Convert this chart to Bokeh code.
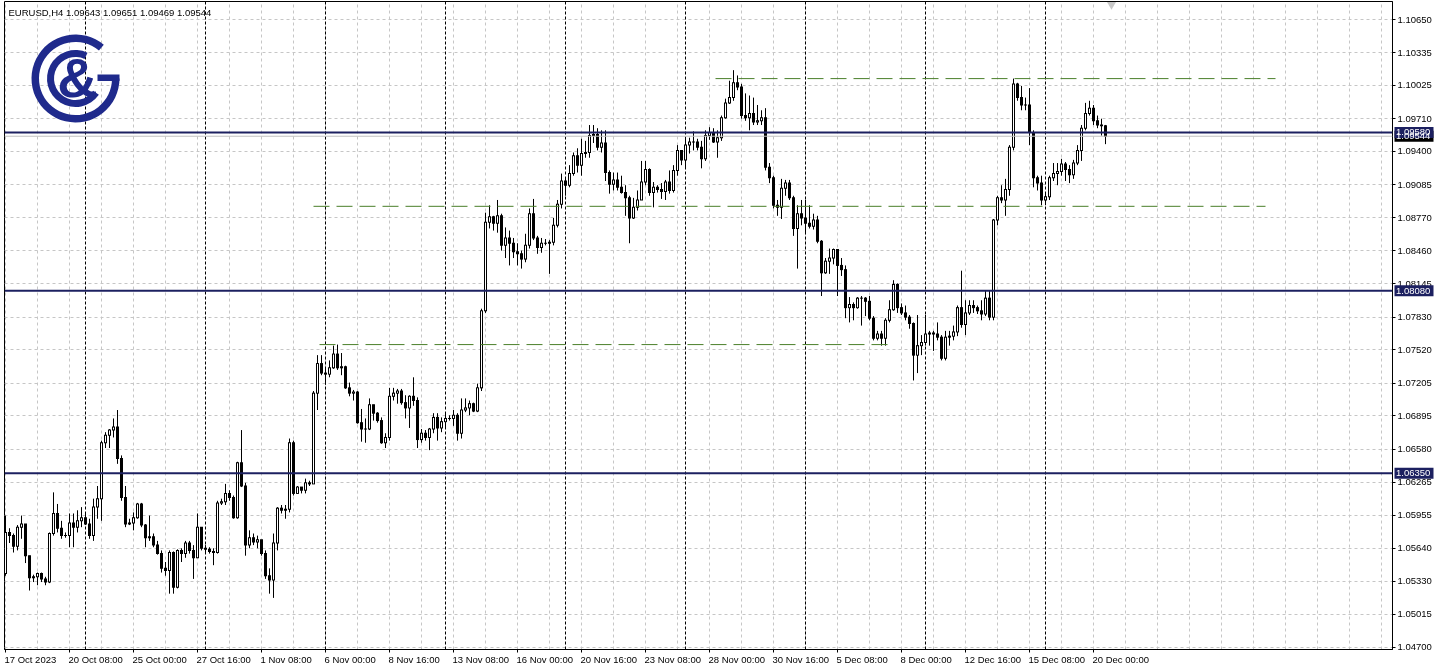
import math
from bokeh.plotting import figure
from bokeh.models import (Range1d, LinearAxis, FixedTicker, Span, Label, ColumnDataSource,
                          Grid, PrintfTickFormatter)
from bokeh.core.properties import value
from bokeh.embed import file_html
from bokeh.resources import INLINE

# ---------------- data ----------------
symbol_text = "EURUSD,H4  1.09643 1.09651 1.09469 1.09544"

first_open = 1.0540
closes = [
    1.0579, 1.0576, 1.0566, 1.0584, 1.0587, 1.0557, 1.0536, 1.0537, 1.0540, 1.0535,
    1.0532, 1.0578, 1.0597, 1.0583, 1.0576, 1.0576, 1.0588, 1.0584, 1.0590, 1.0593,
    1.0587, 1.0576, 1.0603, 1.0611, 1.0664, 1.0671, 1.0676, 1.0679, 1.0649, 1.0612,
    1.0587, 1.0588, 1.0593, 1.0606, 1.0586, 1.0574, 1.0575, 1.0567, 1.0559, 1.0545,
    1.0543, 1.0560, 1.0527, 1.0562, 1.0559, 1.0569, 1.0562, 1.0555, 1.0584, 1.0564,
    1.0563, 1.0561, 1.0560, 1.0607, 1.0608, 1.0616, 1.0612, 1.0593, 1.0645, 1.0623,
    1.0567, 1.0574, 1.0570, 1.0572, 1.0559, 1.0538, 1.0534, 1.0569, 1.0602, 1.0600,
    1.0601, 1.0664, 1.0616, 1.0622, 1.0619, 1.0626, 1.0625, 1.0711, 1.0739, 1.0730,
    1.0729, 1.0735, 1.0748, 1.0735, 1.0736, 1.0716, 1.0711, 1.0712, 1.0683, 1.0677,
    1.0677, 1.0700, 1.0692, 1.0685, 1.0664, 1.0669, 1.0708, 1.0711, 1.0713, 1.0702,
    1.0697, 1.0708, 1.0704, 1.0667, 1.0673, 1.0669, 1.0677, 1.0688, 1.0678, 1.0684,
    1.0687, 1.0687, 1.0690, 1.0673, 1.0695, 1.0697, 1.0701, 1.0694, 1.0716, 1.0789,
    1.0873, 1.0878, 1.0872, 1.0879, 1.0851, 1.0858, 1.0853, 1.0845, 1.0843, 1.0838,
    1.0851, 1.0881, 1.0858, 1.0849, 1.0853, 1.0853, 1.0854, 1.0870, 1.0890, 1.0912,
    1.0908, 1.0919, 1.0936, 1.0927, 1.0938, 1.0939, 1.0955, 1.0956, 1.0944, 1.0948,
    1.0920, 1.0909, 1.0913, 1.0906, 1.0901, 1.0896, 1.0877, 1.0887, 1.0894, 1.0911,
    1.0923, 1.0901, 1.0906, 1.0904, 1.0902, 1.0911, 1.0903, 1.0922, 1.0941, 1.0932,
    1.0946, 1.0949, 1.0949, 1.0944, 1.0933, 1.0955, 1.0958, 1.0949, 1.0953, 1.0972,
    1.0986, 1.0991, 1.1005, 1.1001, 1.0974, 1.0972, 1.0976, 1.0968, 1.0969, 1.0972,
    1.0925, 1.0915, 1.0889, 1.0887, 1.0905, 1.0910, 1.0896, 1.0867, 1.0881, 1.0877,
    1.0872, 1.0869, 1.0875, 1.0855, 1.0825, 1.0836, 1.0839, 1.0847, 1.0832, 1.0828,
    1.0792, 1.0795, 1.0792, 1.0801, 1.0801, 1.0798, 1.0782, 1.0763, 1.0767, 1.0763,
    1.0780, 1.0790, 1.0814, 1.0792, 1.0787, 1.0783, 1.0777, 1.0747, 1.0756, 1.0759,
    1.0767, 1.0768, 1.0767, 1.0764, 1.0744, 1.0764, 1.0765, 1.0769, 1.0792, 1.0776,
    1.0787, 1.0794, 1.0792, 1.0789, 1.0786, 1.0801, 1.0783, 1.0875, 1.0896, 1.0894,
    1.0904, 1.0944, 1.1004, 1.0991, 1.0984, 1.0984, 1.0958, 1.0915, 1.0910, 1.0894,
    1.0897, 1.0915, 1.0919, 1.0921, 1.0928, 1.0923, 1.0918, 1.0929, 1.0941, 1.0962,
    1.0976, 1.0981, 1.0969, 1.0965, 1.09643, 1.09544,
]
highs = [
    1.0595, 1.0583, 1.0578, 1.0586, 1.0595, 1.0587, 1.0557, 1.0539, 1.0541, 1.0541,
    1.0537, 1.0579, 1.0617, 1.0606, 1.0590, 1.0579, 1.0597, 1.0597, 1.0600, 1.0603,
    1.0597, 1.0592, 1.0611, 1.0623, 1.0666, 1.0674, 1.0677, 1.0687, 1.0695, 1.0652,
    1.0623, 1.0592, 1.0598, 1.0607, 1.0607, 1.0587, 1.0595, 1.0578, 1.0571, 1.0562,
    1.0551, 1.0562, 1.0561, 1.0563, 1.0564, 1.0571, 1.0571, 1.0567, 1.0597, 1.0584,
    1.0567, 1.0565, 1.0564, 1.0609, 1.0611, 1.0625, 1.0619, 1.0614, 1.0646, 1.0676,
    1.0626, 1.0581, 1.0578, 1.0576, 1.0571, 1.0562, 1.0545, 1.0578, 1.0603, 1.0605,
    1.0605, 1.0668, 1.0666, 1.0623, 1.0622, 1.0630, 1.0628, 1.0713, 1.0747, 1.0747,
    1.0734, 1.0742, 1.0756, 1.0757, 1.0749, 1.0737, 1.0721, 1.0714, 1.0713, 1.0696,
    1.0687, 1.0706, 1.0700, 1.0693, 1.0688, 1.0673, 1.0716, 1.0716, 1.0715, 1.0715,
    1.0709, 1.0709, 1.0726, 1.0707, 1.0677, 1.0676, 1.0678, 1.0692, 1.0692, 1.0688,
    1.0692, 1.0690, 1.0695, 1.0692, 1.0706, 1.0706, 1.0704, 1.0702, 1.0720, 1.0791,
    1.0882, 1.0889, 1.0879, 1.0894, 1.0881, 1.0868, 1.0865, 1.0858, 1.0853, 1.0846,
    1.0862, 1.0886, 1.0895, 1.0860, 1.0858, 1.0857, 1.0856, 1.0877, 1.0894, 1.0919,
    1.0914, 1.0927, 1.0939, 1.0943, 1.0952, 1.0950, 1.0965, 1.0965, 1.0962, 1.0960,
    1.0960, 1.0922, 1.0920, 1.0920, 1.0917, 1.0908, 1.0898, 1.0896, 1.0903, 1.0931,
    1.0931, 1.0924, 1.0911, 1.0908, 1.0910, 1.0913, 1.0922, 1.0927, 1.0946, 1.0941,
    1.0952, 1.0953, 1.0959, 1.0952, 1.0950, 1.0960, 1.0963, 1.0962, 1.0960, 1.0974,
    1.0990, 1.1007, 1.1017, 1.1012, 1.1004, 1.0995, 1.0993, 1.0991, 1.0984, 1.0979,
    1.0981, 1.0929, 1.0917, 1.0894, 1.0914, 1.0913, 1.0913, 1.0898, 1.0889, 1.0894,
    1.0894, 1.0889, 1.0881, 1.0879, 1.0856, 1.0839, 1.0848, 1.0848, 1.0847, 1.0839,
    1.0832, 1.0802, 1.0797, 1.0802, 1.0803, 1.0802, 1.0803, 1.0784, 1.0770, 1.0770,
    1.0782, 1.0799, 1.0818, 1.0815, 1.0796, 1.0794, 1.0785, 1.0778, 1.0785, 1.0766,
    1.0785, 1.0770, 1.0770, 1.0778, 1.0766, 1.0770, 1.0770, 1.0775, 1.0794, 1.0827,
    1.0799, 1.0799, 1.0799, 1.0794, 1.0799, 1.0808, 1.0808, 1.0876, 1.0898, 1.0908,
    1.0914, 1.0946, 1.1009, 1.1005, 1.1002, 1.0991, 1.1000, 1.0960, 1.0917, 1.0917,
    1.0900, 1.0917, 1.0929, 1.0929, 1.0933, 1.0930, 1.0927, 1.0932, 1.0946, 1.0965,
    1.0986, 1.0988, 1.0984, 1.0974, 1.0971, 1.09651,
]
lows = [
    1.0538, 1.0569, 1.0560, 1.0562, 1.0573, 1.0550, 1.0524, 1.0532, 1.0529, 1.0532,
    1.0529, 1.0531, 1.0576, 1.0579, 1.0573, 1.0574, 1.0565, 1.0565, 1.0579, 1.0584,
    1.0586, 1.0573, 1.0571, 1.0592, 1.0590, 1.0659, 1.0659, 1.0669, 1.0644, 1.0609,
    1.0584, 1.0586, 1.0581, 1.0592, 1.0584, 1.0565, 1.0571, 1.0565, 1.0558, 1.0541,
    1.0538, 1.0521, 1.0521, 1.0526, 1.0551, 1.0555, 1.0559, 1.0535, 1.0555, 1.0562,
    1.0560, 1.0559, 1.0548, 1.0559, 1.0605, 1.0605, 1.0609, 1.0592, 1.0592, 1.0622,
    1.0557, 1.0564, 1.0567, 1.0564, 1.0557, 1.0535, 1.0521, 1.0517, 1.0562, 1.0597,
    1.0592, 1.0598, 1.0614, 1.0616, 1.0616, 1.0616, 1.0623, 1.0625, 1.0695, 1.0728,
    1.0719, 1.0726, 1.0734, 1.0733, 1.0728, 1.0715, 1.0708, 1.0704, 1.0682, 1.0665,
    1.0664, 1.0676, 1.0685, 1.0683, 1.0663, 1.0659, 1.0666, 1.0704, 1.0701, 1.0700,
    1.0687, 1.0678, 1.0699, 1.0659, 1.0664, 1.0666, 1.0657, 1.0673, 1.0666, 1.0674,
    1.0678, 1.0685, 1.0680, 1.0666, 1.0668, 1.0693, 1.0690, 1.0693, 1.0693, 1.0713,
    1.0787, 1.0867, 1.0865, 1.0863, 1.0846, 1.0839, 1.0832, 1.0839, 1.0832, 1.0829,
    1.0835, 1.0848, 1.0856, 1.0843, 1.0844, 1.0851, 1.0824, 1.0851, 1.0868, 1.0886,
    1.0898, 1.0906, 1.0917, 1.0920, 1.0917, 1.0934, 1.0934, 1.0948, 1.0941, 1.0939,
    1.0912, 1.0900, 1.0903, 1.0903, 1.0900, 1.0879, 1.0853, 1.0876, 1.0884, 1.0894,
    1.0908, 1.0898, 1.0887, 1.0901, 1.0895, 1.0894, 1.0900, 1.0901, 1.0917, 1.0927,
    1.0924, 1.0938, 1.0941, 1.0941, 1.0924, 1.0931, 1.0951, 1.0948, 1.0934, 1.0950,
    1.0971, 1.0985, 1.0988, 1.0998, 1.0971, 1.0969, 1.0960, 1.0965, 1.0965, 1.0965,
    1.0922, 1.0910, 1.0886, 1.0879, 1.0876, 1.0898, 1.0894, 1.0860, 1.0829, 1.0870,
    1.0863, 1.0867, 1.0866, 1.0853, 1.0803, 1.0824, 1.0824, 1.0833, 1.0803, 1.0822,
    1.0782, 1.0778, 1.0780, 1.0791, 1.0775, 1.0784, 1.0780, 1.0761, 1.0761, 1.0756,
    1.0756, 1.0778, 1.0789, 1.0787, 1.0785, 1.0780, 1.0772, 1.0723, 1.0730, 1.0747,
    1.0756, 1.0756, 1.0751, 1.0761, 1.0742, 1.0742, 1.0756, 1.0761, 1.0765, 1.0773,
    1.0766, 1.0785, 1.0787, 1.0786, 1.0780, 1.0784, 1.0780, 1.0780, 1.0870, 1.0891,
    1.0879, 1.0898, 1.0941, 1.0988, 1.0979, 1.0979, 1.0946, 1.0906, 1.0903, 1.0889,
    1.0889, 1.0894, 1.0912, 1.0908, 1.0917, 1.0912, 1.0910, 1.0914, 1.0927, 1.0931,
    1.0960, 1.0974, 1.0965, 1.0962, 1.0955, 1.09469,
]

price_ticks = [1.10650, 1.10335, 1.10025, 1.09710, 1.09400, 1.09085, 1.08770, 1.08460,
               1.08145, 1.07830, 1.07520, 1.07205, 1.06895, 1.06580, 1.06265, 1.05955,
               1.05640, 1.05330, 1.05015, 1.04700]
date_tick_bars = [0, 16, 32, 48, 64, 80, 96, 112, 128, 144, 160, 176, 192, 208, 224, 240, 256, 272]
date_labels = ["17 Oct 2023", "20 Oct 08:00", "25 Oct 00:00", "27 Oct 16:00", "1 Nov 08:00",
               "6 Nov 00:00", "8 Nov 16:00", "13 Nov 08:00", "16 Nov 00:00", "20 Nov 16:00",
               "23 Nov 08:00", "28 Nov 00:00", "30 Nov 16:00", "5 Dec 08:00", "8 Dec 00:00",
               "12 Dec 16:00", "15 Dec 08:00", "20 Dec 00:00"]
week_start_bars = [20, 50, 80, 110, 140, 170, 200, 230, 260]

level_lines = [1.09580, 1.08080, 1.06350]
bid_price = 1.09544
green_levels = [1.1009, 1.0888, 1.0757]
green_start_bars = [177.5, 77.0, 78.5]
green_end_bars = [317.5, 315.0, 221.0]

# ---------------- layout constants ----------------
W, H = 1439, 670
LEFT, RIGHT, TOP, BOTTOM = 4, 47, 1, 21
PX_PER_BAR = 4.0
BAR0_PX = 5.0
REF_PRICE, REF_PY = 1.10650, 19.0
PX_PER_UNIT = 10554.6

NAVY = "#1c2060"
LOGO = "#1f2a8c"
GREEN = "#4a7f2a"
GRID = "#c6c6c6"
FONT = "Liberation Sans"


def px_to_x(px):
    return (px - BAR0_PX) / PX_PER_BAR


def py_to_y(py):
    return REF_PRICE - (py - REF_PY) / PX_PER_UNIT


x_start, x_end = px_to_x(LEFT), px_to_x(W - RIGHT)
y_top, y_bot = py_to_y(TOP), py_to_y(H - BOTTOM)

p = figure(width=W, height=H, output_backend="svg", toolbar_location=None,
           x_range=Range1d(x_start, x_end), y_range=Range1d(y_bot, y_top),
           x_axis_location=None, y_axis_location=None,
           min_border_left=LEFT, min_border_right=RIGHT,
           min_border_top=TOP, min_border_bottom=BOTTOM,
           background_fill_color="white", border_fill_color="white")
p.styles = {"position": "fixed", "left": "0px", "top": "0px"}
p.outline_line_color = "black"
p.outline_line_width = 1
p.grid.visible = False

# grid
xg = Grid(dimension=0, ticker=FixedTicker(ticks=list(range(0, 346, 8))),
          grid_line_color=GRID, grid_line_dash="3 3", grid_line_width=1)
yg = Grid(dimension=1, ticker=FixedTicker(ticks=price_ticks),
          grid_line_color=GRID, grid_line_dash="3 3", grid_line_width=1)
p.add_layout(xg)
p.add_layout(yg)

for b in week_start_bars:
    p.add_layout(Span(location=b, dimension="height", line_color="black",
                      line_dash="3 2", line_width=1, level="underlay"))

# candles (body: 3px black block; bullish bodies get a 1px white core)
n = len(closes)
opens = [first_open] + closes[:-1]
idx = list(range(n))
p.segment(x0=idx, y0=lows, x1=idx, y1=highs, line_color="black", line_width=1)

ONE_PX_PRICE = 1.0 / PX_PER_UNIT
body = dict(x=[], top=[], bottom=[])
core = dict(x=[], top=[], bottom=[])
for i, o, c in zip(idx, opens, closes):
    hi, lo = max(o, c), min(o, c)
    body["x"].append(i)
    body["top"].append(hi + 0.5 * ONE_PX_PRICE)
    body["bottom"].append(lo - 0.5 * ONE_PX_PRICE)
    if c > o and (hi - lo) > ONE_PX_PRICE:
        core["x"].append(i)
        core["top"].append(hi - 0.5 * ONE_PX_PRICE)
        core["bottom"].append(lo + 0.5 * ONE_PX_PRICE)
p.vbar(x="x", top="top", bottom="bottom", width=0.75, source=ColumnDataSource(body),
       fill_color="black", line_color=None)
p.vbar(x="x", top="top", bottom="bottom", width=0.25, source=ColumnDataSource(core),
       fill_color="white", line_color=None)

# horizontal levels
p.add_layout(Span(location=bid_price, dimension="width", line_color="#c0c0c0", line_width=1))
for lv in level_lines:
    p.add_layout(Span(location=lv, dimension="width", line_color=NAVY, line_width=2))
p.segment(x0=green_start_bars, y0=green_levels, x1=green_end_bars, y1=green_levels,
          line_color=GREEN, line_width=1, line_dash="16 7")

# chart-shift marker at the top
p.scatter(x=[px_to_x(1111)], y=[py_to_y(4)], marker="inverted_triangle", size=9,
          fill_color="#c8c8c8", line_color=None)

# right price axis
ry = LinearAxis(ticker=FixedTicker(ticks=price_ticks),
                formatter=PrintfTickFormatter(format="%.5f"))
ry.axis_line_color = "black"
ry.major_tick_out = 3
ry.major_tick_in = 0
ry.minor_tick_out = 0
ry.minor_tick_in = 0
ry.major_label_standoff = 2
ry.major_label_text_font = FONT
ry.major_label_text_font_size = "9.5px"
ry.major_label_text_color = "black"
p.add_layout(ry, "right")

# bottom time axis: minor ticks mark the bars, labels sit just right of them
CHAR_W = {"0": .556, "1": .556, "2": .556, "3": .556, "4": .556, "5": .556, "6": .556,
          "7": .556, "8": .556, "9": .556, " ": .278, ":": .278, "O": .778, "c": .5,
          "t": .278, "N": .722, "o": .556, "v": .5, "D": .722, "e": .556}
LBL_SIZE = 9.5


def text_w(s):
    return sum(CHAR_W.get(ch, .556) for ch in s) * LBL_SIZE


label_pos = [b + (-1.0 + text_w(s) / 2) / PX_PER_BAR for b, s in zip(date_tick_bars, date_labels)]
lx = LinearAxis(ticker=FixedTicker(ticks=label_pos, minor_ticks=date_tick_bars),
                major_label_overrides={pos: s for pos, s in zip(label_pos, date_labels)})
lx.axis_line_color = "black"
lx.major_tick_line_color = None
lx.major_tick_out = 3
lx.major_tick_in = 0
lx.minor_tick_line_color = "black"
lx.minor_tick_out = 3
lx.minor_tick_in = 0
lx.major_label_standoff = 1
lx.major_label_text_font = FONT
lx.major_label_text_font_size = "9.5px"
lx.major_label_text_color = "black"
p.add_layout(lx, "below")

# header text
p.add_layout(Label(x=px_to_x(8), y=py_to_y(11.5), text=symbol_text, text_font=FONT,
                   text_font_size="9.5px", text_color="black", text_baseline="middle"))

# logo
cx, cy = px_to_x(75), py_to_y(78)
p.annular_wedge(x=[cx], y=[cy], inner_radius=36.5, outer_radius=44,
                inner_radius_units="screen", outer_radius_units="screen",
                start_angle=math.radians(50), end_angle=math.radians(360),
                direction="anticlock", fill_color=LOGO, line_color=None)
p.quad(left=[px_to_x(97)], right=[px_to_x(119)], top=[py_to_y(74)], bottom=[py_to_y(80.5)],
       fill_color=LOGO, line_color=None)
p.annular_wedge(x=[cx], y=[cy], inner_radius=21.5, outer_radius=28.5,
                inner_radius_units="screen", outer_radius_units="screen",
                start_angle=math.radians(65), end_angle=math.radians(325),
                direction="anticlock", fill_color=LOGO, line_color=None)
p.text(x=[px_to_x(77)], y=[py_to_y(76.5)], text=["&"],
       text_font=value("'Liberation Sans Narrow', 'Liberation Sans'"),
       text_font_style="bold", text_font_size="56px", text_align="center",
       text_baseline="middle", text_color=LOGO)

# ---- price tags on the price scale (transparent overlay aligned with the axis) ----
TAG_LEFT_PX = W - RIGHT
TAG_W = W - TAG_LEFT_PX
q = figure(width=TAG_W, height=H, output_backend="svg", toolbar_location=None,
           x_range=Range1d(0, TAG_W), y_range=Range1d(py_to_y(H), py_to_y(0)),
           x_axis_location=None, y_axis_location=None, min_border=0,
           background_fill_color=None, border_fill_color=None, outline_line_color=None)
q.styles = {"position": "fixed", "left": f"{TAG_LEFT_PX}px", "top": "0px"}
q.grid.visible = False
tag_prices = [bid_price] + level_lines
tag_colors = ["black"] + [NAVY] * len(level_lines)
tag_text = [f"{v:.5f}" for v in tag_prices]
q.rect(x=[21.5] * len(tag_prices), y=tag_prices, width=39, height=11, height_units="screen",
       fill_color=tag_colors, line_color=None)
q.text(x=[3.5] * len(tag_prices), y=tag_prices, text=tag_text, text_font=value(FONT),
       text_font_size="9.5px", text_color="white", text_baseline="middle", text_align="left")

open("out.html", "w").write(file_html([p, q], INLINE))
